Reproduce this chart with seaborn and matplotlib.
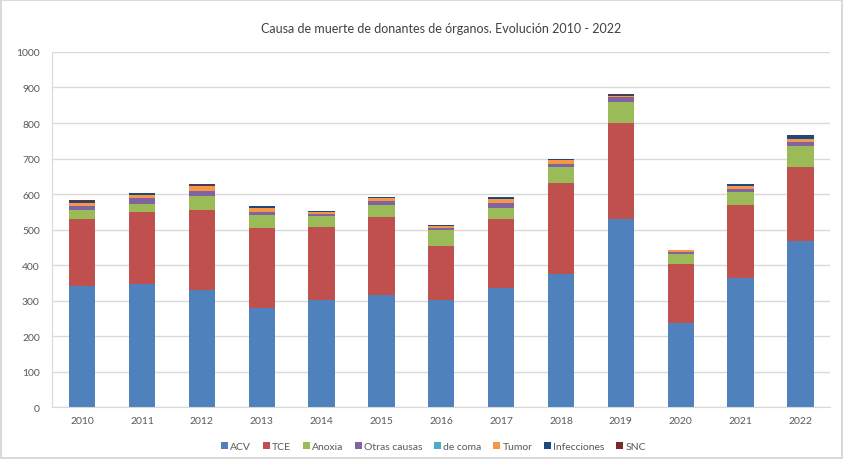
import numpy as np
import pandas as pd
import seaborn as sns
import matplotlib.pyplot as plt

years = ["2010", "2011", "2012", "2013", "2014", "2015", "2016",
         "2017", "2018", "2019", "2020", "2021", "2022"]

acv = [343, 348, 330, 281, 303, 315, 303, 337, 375, 530, 237, 365, 469]
tce = [187, 201, 226, 225, 205, 220, 152, 193, 256, 271, 167, 205, 208]
anoxia = [26, 24, 38, 36, 31, 34, 43, 32, 45, 59, 29, 37, 57]
otras = [11, 15, 16, 9, 6, 11, 8, 13, 8, 12, 5, 7, 12]
de_coma = [1, 0, 0, 0, 0, 0, 0, 0, 0, 0, 0, 0, 0]
tumor = [8, 9, 14, 10, 5, 9, 4, 12, 13, 4, 4, 9, 10]
infecciones = [6, 7, 3, 6, 3, 3, 4, 4, 2, 3, 0, 5, 11]
snc = [1, 0, 2, 0, 0, 0, 0, 0, 1, 3, 1, 0, 0]

series = ["ACV", "TCE", "Anoxia", "Otras causas", "de coma", "Tumor", "Infecciones", "SNC"]
colors = ["#4F81BD", "#C0504D", "#9BBB59", "#8064A2", "#4BACC6", "#F79646", "#1F497D", "#772C2A"]

df = pd.DataFrame({"year": years, "ACV": acv, "TCE": tce, "Anoxia": anoxia,
                   "Otras causas": otras, "de coma": de_coma, "Tumor": tumor,
                   "Infecciones": infecciones, "SNC": snc})

# cumulative sums, drawn top layer first so each lower layer covers it
cum = df[series].cumsum(axis=1)
cum["year"] = df["year"]

sns.set_style("white")
plt.rcParams["font.family"] = ["Lato", "DejaVu Sans"]

fig, ax = plt.subplots(figsize=(8.43, 4.6), dpi=100)
fig.subplots_adjust(left=0.062, right=0.985, top=0.885, bottom=0.112)

for name, col in reversed(list(zip(series, colors))):
    sns.barplot(data=cum, x="year", y=name, color=col, width=0.44,
                saturation=1, ax=ax, label=name, edgecolor="none")

ax.set_ylim(0, 1000)
ax.set_yticks(np.arange(0, 1001, 100))
ax.set_xlim(-0.5, len(years) - 0.5)
ax.yaxis.grid(True, color="#D9D9D9", linewidth=1)
ax.set_axisbelow(True)
ax.set_xlabel("")
ax.set_ylabel("")
ax.set_title("Causa de muerte de donantes de órganos. Evolución 2010 - 2022",
             fontsize=9, color="#404040", pad=14)

for s in ["top", "right"]:
    ax.spines[s].set_visible(False)
ax.spines["left"].set_color("#D9D9D9")
ax.spines["bottom"].set_color("#D9D9D9")
ax.tick_params(axis="y", length=5, color="#D9D9D9", labelsize=7.5, labelcolor="#595959", pad=4)
ax.tick_params(axis="x", length=0, labelsize=7.5, labelcolor="#595959", pad=6)

handles, labels = ax.get_legend_handles_labels()
order = [labels.index(s) for s in series]
ax.legend([handles[i] for i in order], series, loc="upper center",
          bbox_to_anchor=(0.49, -0.07), ncol=8, frameon=False, fontsize=7.5,
          handlelength=0.7, handleheight=0.7, handletextpad=0.2, columnspacing=1.1,
          labelcolor="#595959")

fig.patch.set_edgecolor("#D9D9D9")
fig.patch.set_linewidth(1.5)
fig.savefig("out.png", dpi=100, edgecolor=fig.get_edgecolor())
